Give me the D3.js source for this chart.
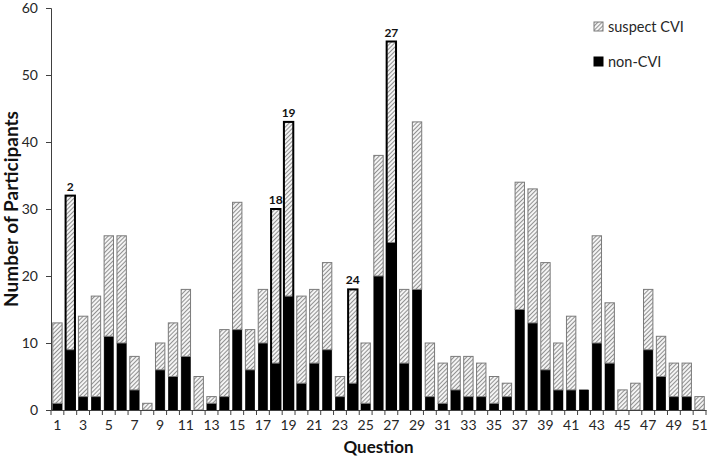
<!DOCTYPE html>
<html><head><meta charset="utf-8">
<script src="https://cdn.jsdelivr.net/npm/d3@7"></script>
<style>
html,body{margin:0;padding:0;background:#fff;}
text{font-family:Lato,"Open Sans",sans-serif;}
</style></head>
<body>
<svg id="c" width="708" height="461"></svg>
<script>
const questions = d3.range(1, 52);
const nonCVI = [1,9,2,2,11,10,3,0,6,5,8,0,1,2,12,6,10,7,17,4,7,9,2,4,1,20,25,7,18,2,1,3,2,2,1,2,15,13,6,3,3,3,10,7,0,0,9,5,2,2,0];
const suspectCVI = [12,23,12,15,15,16,5,1,4,8,10,5,1,10,19,6,8,23,26,13,11,13,3,14,9,18,30,11,25,8,6,5,6,5,4,2,19,20,16,7,11,0,16,9,3,4,9,6,5,5,2];
const highlighted = [2,18,19,24,27];
const yTicks = [0,10,20,30,40,50,60];
const xTickLabels = questions.filter(q => q % 2 === 1);
const seriesNames = ["suspect CVI","non-CVI"];

const svg = d3.select("#c");
const defs = svg.append("defs");
const pat = defs.append("pattern").attr("id","hatch").attr("patternUnits","userSpaceOnUse")
  .attr("width",3).attr("height",3).attr("patternTransform","rotate(45)");
pat.append("rect").attr("width",3).attr("height",3).attr("fill","#f4f4f4");
pat.append("line").attr("x1",0).attr("y1",0).attr("x2",0).attr("y2",3)
  .attr("stroke","#707070").attr("stroke-width",1.5);

const mLeft = 51, mRight = 706, mTop = 8, mBottom = 410;
const x = d3.scaleBand().domain(questions).range([mLeft,mRight]).paddingInner(0.27).paddingOuter(0.135);
const y = d3.scaleLinear().domain([0,60]).range([mBottom,mTop]);

const data = questions.map((q,i)=>({q, non:nonCVI[i], sus:suspectCVI[i]}));
const stack = d3.stack().keys(["non","sus"])(data);

const g = svg.append("g");
g.selectAll("rect.non").data(stack[0].filter(d=>d[1]>d[0])).join("rect").attr("class","non")
  .attr("x", d=>x(d.data.q)).attr("width", x.bandwidth())
  .attr("y", d=>y(d[1])).attr("height", d=>y(d[0])-y(d[1]))
  .attr("fill","#000").attr("stroke","#000").attr("stroke-width",0.5);
g.selectAll("rect.sus").data(stack[1].filter(d=>d[1]>d[0])).join("rect").attr("class","sus")
  .attr("x", d=>x(d.data.q)).attr("width", x.bandwidth())
  .attr("y", d=>y(d[1])).attr("height", d=>y(d[0])-y(d[1]))
  .attr("fill","url(#hatch)").attr("stroke","#7a7a7a").attr("stroke-width",1);
const hl = data.filter(d=>highlighted.includes(d.q));
g.selectAll("rect.hl").data(hl).join("rect").attr("class","hl")
  .attr("x", d=>x(d.q)).attr("width", x.bandwidth())
  .attr("y", d=>y(d.non+d.sus)).attr("height", d=>y(0)-y(d.non+d.sus))
  .attr("fill","none").attr("stroke","#000").attr("stroke-width",2);
g.selectAll("text.hl").data(hl).join("text").attr("class","hl")
  .attr("x", d=>x(d.q)+x.bandwidth()/2).attr("y", d=>y(d.non+d.sus)-5)
  .attr("text-anchor","middle").attr("font-size",12).attr("font-weight","bold").attr("fill","#111")
  .text(d=>d.q);

const yAxis = svg.append("g").attr("transform",`translate(${mLeft},0)`)
  .call(d3.axisLeft(y).tickValues(yTicks).tickSize(5).tickPadding(8));
yAxis.select(".domain").attr("stroke","#404040");
yAxis.selectAll(".tick line").attr("stroke","#404040");
yAxis.selectAll("text").attr("font-size",14).attr("fill","#262626").attr("font-family","Lato,'Open Sans',sans-serif");

const xAxis = svg.append("g").attr("transform",`translate(0,${mBottom})`)
  .call(d3.axisBottom(x).tickValues(xTickLabels).tickSize(0).tickPadding(10));
xAxis.select(".domain").attr("stroke","#404040");
xAxis.selectAll("text").attr("font-size",14).attr("fill","#262626").attr("font-family","Lato,'Open Sans',sans-serif");
const step = x.step();
const bounds = questions.map(q => x(q) - step*x.paddingInner()/2).concat([mRight]);
xAxis.selectAll("line.bt").data(bounds).join("line").attr("class","bt")
  .attr("x1",d=>d).attr("x2",d=>d).attr("y1",0).attr("y2",5).attr("stroke","#404040");

svg.append("text").attr("transform",`translate(18,${(mTop+mBottom)/2}) rotate(-90)`)
  .attr("text-anchor","middle").attr("font-size",19).attr("font-weight","bold").attr("fill","#111")
  .text("Number of Participants");
svg.append("text").attr("x",(mLeft+mRight)/2).attr("y",453)
  .attr("text-anchor","middle").attr("font-size",17).attr("font-weight","bold").attr("fill","#111")
  .text("Question");

const leg = svg.append("g");
const legY = [22,57];
leg.selectAll("rect").data(seriesNames).join("rect")
  .attr("x",594).attr("y",(d,i)=>legY[i]).attr("width",9).attr("height",9)
  .attr("fill",(d,i)=>i===0?"url(#hatch)":"#000").attr("stroke",(d,i)=>i===0?"#7a7a7a":"#000");
leg.selectAll("text").data(seriesNames).join("text")
  .attr("x",608).attr("y",(d,i)=>legY[i]+9.5)
  .attr("font-size",14.5).attr("fill","#262626").text(d=>d);
</script>
</body></html>
